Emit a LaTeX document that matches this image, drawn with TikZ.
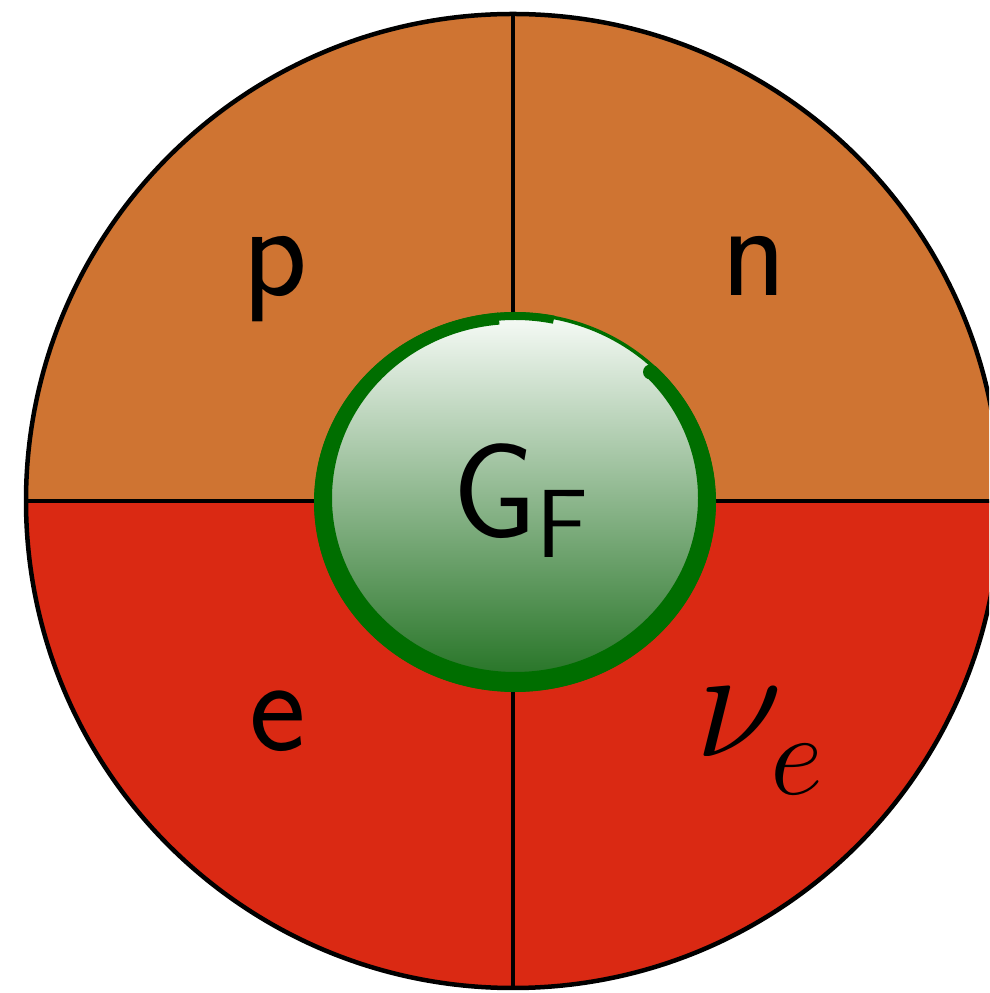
\documentclass[tikz,border=0pt]{standalone}
\usepackage{fix-cm}
\usepackage{fontspec}
\begin{document}
\begin{tikzpicture}[x=1pt,y=1pt,
  sect/.style={line width=3.5pt,draw=black},
  lbl/.style={inner sep=0pt,anchor=base,font=\sffamily\fontsize{135}{135}\selectfont}]
\definecolor{topq}{RGB}{207,116,50}
\definecolor{botq}{RGB}{218,41,19}
\definecolor{ringgreen}{RGB}{0,110,0}
\definecolor{shadetop}{RGB}{247,251,247}
\definecolor{shadebot}{RGB}{32,112,32}
\useasboundingbox (0,0) rectangle (989,993);
\clip (0,0) rectangle (989,993);
\coordinate (c) at (513,492);
\coordinate (oc) at (515,491);
\coordinate (ic) at (515,495);
% quadrants
\fill[topq] (c) circle[radius=487];
\fill[botq] ([xshift=-487pt]c) arc[start angle=180,end angle=360,radius=487] -- cycle;
\coordinate (l) at (24,492);
\coordinate (r) at (1005,492);
\coordinate (t) at (513,979);
\coordinate (b) at (513,5);
\draw[sect] (l) -- (r);
\draw[sect] (t) -- (b);
\draw[line width=4.5pt] (c) circle[radius=487];
% inner disc
\shade[top color=shadetop,bottom color=shadebot] (oc) ellipse[x radius=199,y radius=188];
\draw[draw=ringgreen,line width=3.5pt] (oc) ellipse[x radius=199,y radius=188];
\begin{scope}
\clip (oc) -- ([shift={(95:400pt)}]oc) -- ([shift={(170:400pt)}]oc) -- ([shift={(250:400pt)}]oc) -- ([shift={(330:400pt)}]oc) -- ([shift={(44:400pt)}]oc) -- cycle;
\fill[ringgreen,even odd rule] (oc) ellipse[x radius=201,y radius=190] (ic) ellipse[x radius=183,y radius=174];
\end{scope}
\begin{scope}
\clip (oc) -- ([shift={(78:400pt)}]oc) -- ([shift={(96:400pt)}]oc) -- cycle;
\fill[ringgreen,even odd rule] (oc) ellipse[x radius=201,y radius=190] (515,493) ellipse[x radius=187,y radius=180];
\end{scope}
\fill[ringgreen] (650.5,621) circle[radius=7.5];
% labels
\node[lbl] (p) at (275,697) {p};
\node[lbl] (n) at (754,697) {n};
\node[lbl] (e) at (278,242) {e};
\node[lbl,anchor=base west] (gf) at (452,455) {G\raisebox{-20pt}{\fontsize{97}{97}\selectfont F}};
\node[inner sep=0pt,anchor=base west] (nu) at (695,236) {\fontsize{160}{160}\selectfont$\nu$\kern-12pt\raisebox{-38pt}{\fontsize{116}{116}\selectfont$e$}};
\end{tikzpicture}
\end{document}
